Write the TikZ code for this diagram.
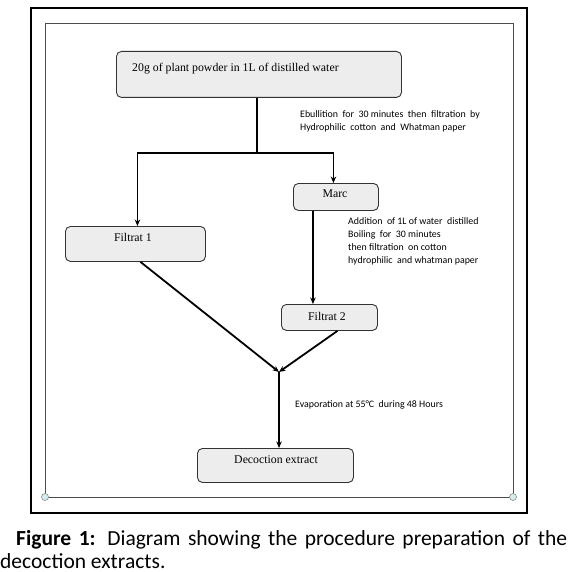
\documentclass[tikz,border=0pt]{standalone}
\usepackage{fontspec}
\setmainfont{Liberation Serif}
\newfontfamily\calfont{Carlito}
\usetikzlibrary{arrows.meta}
\begin{document}
\begin{tikzpicture}[x=1pt,y=-1pt,
  box/.style={draw=black!80, fill=black!7, rounded corners=5pt, line width=0.9pt, inner sep=0pt, anchor=north west},
  conn/.style={draw=black, line width=1.8pt},
  arr/.style={conn, -{Stealth[length=6.5pt,width=5.5pt]}},
  lbl/.style={font=\calfont\fontsize{9.9}{13}\selectfont, anchor=north west, inner sep=0pt, align=left},
  btxt/.style={font=\fontsize{11.8}{13}\selectfont, inner sep=0pt},
  captxt/.style={font=\calfont\fontsize{21.5}{24}\selectfont, inner sep=0pt, anchor=base west}]
\useasboundingbox (0,0) rectangle (569,572);
% frames
\draw[black, line width=1.2pt] (31,8) rectangle (527,513);
\draw[black!70, line width=0.9pt] (45,23) rectangle (513,497);
\foreach \p in {45,513}
  \draw[black!45, fill={rgb,255:red,214;green,236;blue,236}, line width=0.6pt] (\p,497) circle (3.5pt);
% boxes
\node[box, minimum width=285pt, minimum height=46pt] (top) at (116,51) {};
\node[btxt, anchor=west] (toptext) at (132,69) {20g of plant powder in 1L of distilled water};
\node[box, minimum width=85pt, minimum height=27pt] (marc) at (293,183) {};
\node[btxt] (marctext) at (335,194) {Marc};
\node[box, minimum width=140pt, minimum height=35pt] (f1) at (65,226) {};
\node[btxt] (f1text) at (133,237) {Filtrat 1};
\node[box, minimum width=96pt, minimum height=26pt] (f2) at (281,304) {};
\node[btxt] (f2text) at (327,316) {Filtrat 2};
\node[box, minimum width=156pt, minimum height=34pt] (dec) at (197,448) {};
\node[btxt] (dectext) at (276,460) {Decoction extract};
% connectors
\coordinate (split) at (257,153);
\coordinate (join) at (279,372);
\draw[conn] (top.south -| split) -- (split);
\draw[arr] (split) -| ([xshift=2pt]f1.north);
\draw[arr] (split) -| ([xshift=-2.5pt]marc.north);
\draw[arr] ([xshift=-23pt]marc.south) -- ([xshift=-23pt]marc.south |- f2.north);
\draw[arr] ([xshift=5pt]f1.south) -- (join);
\draw[arr] ([xshift=8pt]f2.south) -- (join);
\draw[arr] (join) -- (join |- dec.north);
% labels
\node[lbl] (l1) at (300,110) {Ebullition\ \ for\ \ 30 minutes\ \ then\ \ filtration\ \ by\\Hydrophilic\ \ cotton\ \ and\ \ Whatman paper};
\node[lbl] (l2) at (348,217) {Addition\ \ of 1L of water\ \ distilled\\Boiling\ \ for\ \ 30 minutes\\then filtration\ \ on cotton\\hydrophilic\ \ and whatman paper};
\node[lbl, anchor=west] (l3) at (295,405) {Evaporation at 55°C\ \ during 48 Hours};
% caption
\node[captxt] (cap1) at (16,545) {\makebox[551pt][s]{\textbf{Figure 1:} Diagram showing the procedure preparation of the}};
\node[captxt] (cap2) at (0,568) {decoction extracts.};
\end{tikzpicture}
\end{document}
